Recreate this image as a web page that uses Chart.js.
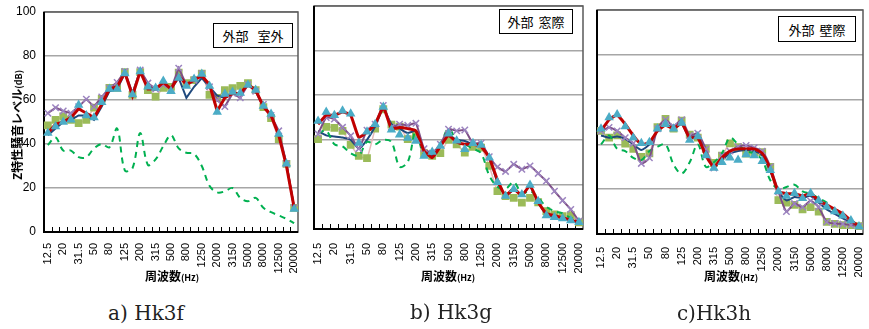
<!DOCTYPE html>
<html><head><meta charset="utf-8">
<script src="https://cdn.jsdelivr.net/npm/chart.js@4.4.1/dist/chart.umd.min.js"></script>
<style>
html,body{margin:0;padding:0;background:#fff;}
#wrap{position:relative;width:869px;height:329px;overflow:hidden;background:#fff;}
canvas{position:absolute;}
.t{position:absolute;white-space:nowrap;font-family:"Noto Sans CJK JP",sans-serif;color:#000;line-height:1;}
.xt{font-weight:bold;font-size:12px;transform:translate(-50%,-50%);}
.xt span{font-size:9px;}
.yt{font-weight:bold;font-size:12px;transform:translate(-50%,-50%) rotate(-90deg);}
.yt span{font-size:9px;}
.cap{font-family:"DejaVu Serif","Liberation Serif",serif;font-size:20px;color:#222;transform:translate(-50%,-50%);}
.box{border:1px solid #000;background:#fff;font-size:13px;display:flex;align-items:center;justify-content:center;box-sizing:border-box;}
</style></head><body>
<div id="wrap">
<canvas id="ca" width="305" height="290" style="left:0;top:0"></canvas>
<canvas id="cb" width="290" height="287" style="left:300px;top:0"></canvas>
<canvas id="cc" width="284" height="292" style="left:585px;top:0"></canvas>
<div class="t box" style="left:213px;top:23px;width:80px;height:25px;">外部<span style="display:inline-block;width:9px"></span>室外</div>
<div class="t box" style="left:499px;top:9px;width:74px;height:25px;">外部<span style="display:inline-block;width:5px"></span>窓際</div>
<div class="t box" style="left:778px;top:16px;width:78px;height:26px;">外部<span style="display:inline-block;width:5px"></span>壁際</div>
<div class="t yt" style="left:17px;top:125px;">Z特性騒音レベル<span>(dB)</span></div>
<div class="t xt" style="left:172px;top:276px;">周波数<span>(Hz)</span></div>
<div class="t xt" style="left:448px;top:276px;">周波数<span>(Hz)</span></div>
<div class="t xt" style="left:731px;top:276px;">周波数<span>(Hz)</span></div>
<div class="t cap" style="left:146px;top:313px;">a) Hk3f</div>
<div class="t cap" style="left:451px;top:312px;">b) Hk3g</div>
<div class="t cap" style="left:714px;top:313px;">c)Hk3h</div>
</div>
<script>
// 1/3 octave band centre frequencies (Hz)
const freqLabels = ['12.5','16','20','25','31.5','40','50','63','80','100','125','160','200','250','315','400','500','630','800','1000','1250','1600','2000','2500','3150','4000','5000','6300','8000','10000','12500','16000','20000'];
const yTicks = [0,20,40,60,80,100];

// a) Hk3f
const navyA = [44,47,50,51,53,53,51,57,64,65,72,63,73,66,65,68,65,70,61,66,70,66,62,61,63,63,67,64,57,53,44,31,11];
const redA = [45,49,50,52,56,54,52,58,65,66,72.5,62,73,65,65,68,65,71,67,69,71,67,55,61,63,63,67,64.5,57,53,44,30,11];
const squareA = [48.5,51,52.5,51,49.5,51,56.5,60.5,65.5,65.5,72.7,62.3,72.7,64.5,61.5,65.5,66,72.4,67.7,69,72,62.3,61,64.5,65.4,66.4,67.7,64.5,56.8,51.8,42.2,31,11];
const purpleA = [54,56.5,55,54,57,60.4,57,61.4,65.4,68,73,63,73.6,67.7,65,67,65,74.5,67,69,72,66,60,57,63,61,67,64,58,53,46,31,11];
const triA = [45,48,50,51,57.7,53,52,59,65,65,72,62.5,73,66,65.5,68.6,64,70,66.4,69.5,71.8,66.4,54.5,62.7,63.6,63.2,66.8,64.5,57.3,53.6,44.5,31,10.5];
const dashA = [39.5,43,37,37,34,34,38,40,38.5,47,28,29,45,30.5,33,39,44,38,36,35.5,30,21,18,18.5,20,15.5,14,15.5,11,9,7.5,6,4];

// b) Hk3g
const navyB = [44,42,41.5,41,40,36,40,46,54,47,45,43,44,35,33,38,42,40,39.5,38,38,32,21,15,17.5,15.5,19,12,6.5,5.5,5,4,3];
const redB = [47,51,51,52.5,51,41,43.5,47,54.5,45,45.5,45,44,35,32,37,42,39,38,38,37,32,22,15,18,15,19.5,12,7,6,5,4,3];
const squareB = [40.3,45.8,45.3,44,37.7,32.8,31.8,45,53.7,46.8,45.9,40.3,42,34,32.8,34,40,38,34.3,36.8,36.5,28.3,17,14.8,14,11.8,14,12,8,6.5,5.8,6.2,3];
const purpleB = [42.6,50,49.3,45.6,41.8,36,44.3,47,55.4,45.7,47,46.5,47.4,36,34,38,44.8,44,44.4,38.5,38.5,32.4,27.8,25.8,29,26.8,28.3,24.9,21.5,17,12.8,8.8,3.5];
const triB = [48.4,52.5,51,53,51.7,38.6,43.6,47,54.7,44.5,42.3,40.8,39.5,32.7,34.5,37.2,42.7,39.6,35.8,38.4,37.7,32,21,14.8,17.8,15.5,19.7,12.5,6,5.3,4.7,3.8,3];
const dashB = [43,44,38,37,34,33,39,38,40,39,28,30,44,33,34,38,45,40,38,36,34,24,19,18,21,16,17,14,10,8,7,5,4];

// c) Hk3h
const navyC = [44,43,43.5,42.5,40,37.5,40,46,49,47,49,43,44,36,30,33,36,37,37.5,37,35,28,19,15,16.5,16,17,14,11,9,7,5,3];
const redC = [46,51,53,49,44,40,41,46,48.5,47,49.5,43,43,35,30,34,37,38,38,38,36,29,19,18,18,17,18,15,13,11,9,6,3.5];
const squareC = [46,43,44,40.3,38,34.4,36,47.7,51.4,47,50.6,44.4,43,38,31.7,35,40.5,38.8,35.9,36.5,36.6,30,15.1,14,13,11,12,10,5.4,4.5,4,4,3.5];
const purpleC = [46,47.6,46,43,40.5,31.5,34,47,51,48,51,44,45,38,29.5,35,37,39,39.5,38.5,37,30,19,10,13.6,12,14.8,12,5.4,4.7,4.5,4,3.5];
const triC = [47,52,53.3,48,43,40.5,41,47,49,47,49.5,42,43.5,35,29.5,32,34,33,35.5,35,32.5,28.5,19,17,18.2,16,18.2,15,12.2,10,8.2,6,3.4];
const dashC = [40,44,38,37,34,33,37,39,40,31,27,32,40,30,32,36,43,40,37,36,33,24,20,21,22,19,18,16,14,10,8,6,4];

const framePlugin = {
  id: 'frame',
  beforeDatasetsDraw(chart) {
    const {ctx, chartArea: a, scales: {x}} = chart;
    ctx.save();
    ctx.strokeStyle = '#595959'; ctx.lineWidth = 1.5;
    ctx.strokeRect(a.left, a.top, a.right - a.left, a.bottom - a.top);
    ctx.strokeStyle = '#000'; ctx.lineWidth = 2;
    ctx.beginPath();
    ctx.moveTo(a.left, a.top); ctx.lineTo(a.left, a.bottom); ctx.lineTo(a.right, a.bottom);
    ctx.stroke();
    ctx.lineWidth = 1;
    ctx.beginPath();
    const n = x.ticks.length;
    for (let i = 1; i < n; i++) {
      const px = Math.round((x.getPixelForTick(i - 1) + x.getPixelForTick(i)) / 2) + 0.5;
      ctx.moveTo(px, a.bottom); ctx.lineTo(px, a.bottom - 5);
    }
    ctx.stroke();
    ctx.restore();
  }
};

function datasets(navy, red, sq, purple, tri, dash, tension) {
  return [
    {data: sq, borderColor: '#E6B9B8', borderWidth: 1.5, tension, pointStyle: 'rect', pointRadius: 5.5,
     pointBackgroundColor: '#9BBB59', pointBorderColor: '#9BBB59', pointBorderWidth: 0, order: 6},
    {data: navy, borderColor: '#1F497D', borderWidth: 2, tension, pointRadius: 0, order: 5},
    {data: dash, borderColor: '#00B050', borderWidth: 2, borderDash: [6, 5], tension: 0.35, pointRadius: 0, order: 4},
    {data: purple, borderColor: '#7E4F86', borderWidth: 2, tension, pointStyle: 'crossRot', pointRadius: 4.5,
     pointBorderColor: '#9C84C0', pointBorderWidth: 1.5, order: 3},
    {data: red, borderColor: '#C00000', borderWidth: 3, tension, pointRadius: 0, order: 2},
    {data: tri, showLine: false, pointStyle: 'triangle', pointRadius: 5.5,
     pointBackgroundColor: '#4BACC6', pointBorderColor: '#4BACC6', pointBorderWidth: 0, order: 1}
  ];
}

function makeChart(id, ds, pad, showY, tickPad) {
  new Chart(document.getElementById(id), {
    type: 'line',
    data: {labels: freqLabels, datasets: ds},
    plugins: [framePlugin],
    options: {
      responsive: false, animation: false, devicePixelRatio: 1,
      layout: {padding: pad},
      plugins: {legend: {display: false}, tooltip: {enabled: false}},
      elements: {line: {fill: false}},
      scales: {
        x: {
          offset: true,
          grid: {display: false, drawTicks: false},
          border: {display: false},
          ticks: {
            autoSkip: false, maxRotation: 90, minRotation: 90, padding: tickPad,
            color: '#000', font: {family: 'Liberation Sans', size: 11},
            callback: (v, i) => (i % 2 === 0 ? freqLabels[i] : '')
          },
          afterFit: s => { s.height = 58; s.paddingLeft = 0; s.paddingRight = 0; }
        },
        y: {
          min: yTicks[0], max: yTicks[yTicks.length - 1],
          afterBuildTicks: s => { s.ticks = yTicks.map(v => ({value: v})); },
          grid: {color: '#A6A6A6', lineWidth: 1.5, drawTicks: false},
          border: {display: false},
          ticks: {display: showY, padding: 8, color: '#000', font: {family: 'Liberation Sans', size: 12}},
          afterFit: s => { s.width = showY ? 44 : 0; s.paddingTop = 0; s.paddingBottom = 0; }
        }
      }
    }
  });
}

makeChart('ca', datasets(navyA, redA, squareA, purpleA, triA, dashA, 0), {left: 0, top: 12, right: 7, bottom: 0}, true, 11);
makeChart('cb', datasets(navyB, redB, squareB, purpleB, triB, dashB, 0.15), {left: 14, top: 6, right: 7, bottom: 0}, false, 14);
makeChart('cc', datasets(navyC, redC, squareC, purpleC, triC, dashC, 0.2), {left: 12, top: 10, right: 3, bottom: 0}, false, 13);
</script>
</body></html>
